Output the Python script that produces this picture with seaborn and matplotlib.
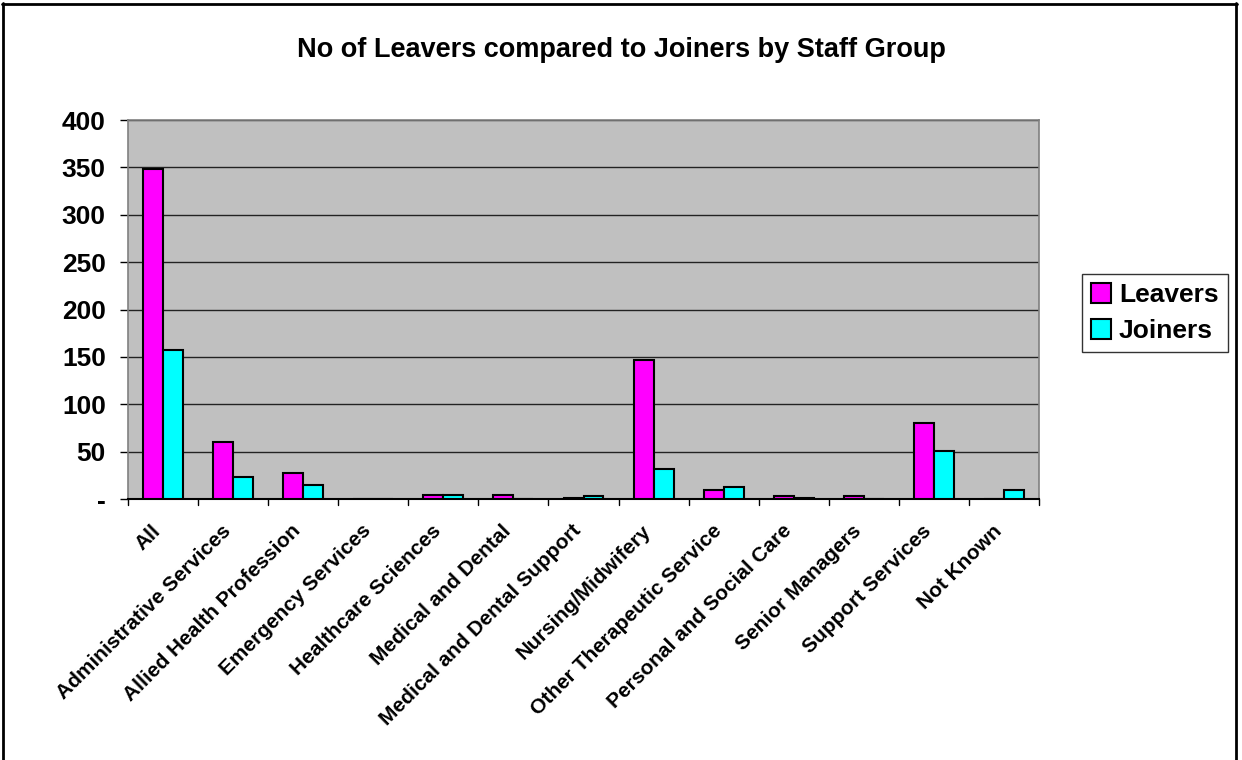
import matplotlib
matplotlib.use("Agg")
import matplotlib.pyplot as plt
import matplotlib.transforms as mtransforms
import seaborn as sns
import pandas as pd
from matplotlib.ticker import FixedLocator, FuncFormatter
from matplotlib.lines import Line2D

categories = ["All", "Administrative Services", "Allied Health Profession", "Emergency Services",
              "Healthcare Sciences", "Medical and Dental", "Medical and Dental Support",
              "Nursing/Midwifery", "Other Therapeutic Service", "Personal and Social Care",
              "Senior Managers", "Support Services", "Not Known"]
leavers = [348, 60, 27, 0, 4, 4, 1, 147, 9, 3, 3, 80, 0]
joiners = [157, 23, 15, 0, 4, 0, 3, 32, 13, 1, 0, 51, 10]
y_ticks = [0, 50, 100, 150, 200, 250, 300, 350, 400]

df = pd.DataFrame({
    "Staff Group": categories * 2,
    "Count": leavers + joiners,
    "Series": ["Leavers"] * len(categories) + ["Joiners"] * len(categories),
})

sns.set_theme(style="white")
plt.rcParams["font.family"] = ["Liberation Sans", "DejaVu Sans"]
plt.rcParams["font.weight"] = "bold"
plt.rcParams["text.color"] = "black"
plt.rcParams["xtick.color"] = "black"
plt.rcParams["ytick.color"] = "black"

W, H = 1242, 760
fig = plt.figure(figsize=(W / 100, H / 100), dpi=100)
ax = fig.add_axes([128 / W, 1 - 499 / H, (1039 - 128) / W, (499 - 120) / H])
ax.set_facecolor("#C0C0C0")

sns.barplot(data=df, x="Staff Group", y="Count", hue="Series",
            palette={"Leavers": "#FF00FF", "Joiners": "#00FFFF"}, saturation=1,
            width=0.57, edgecolor="black", linewidth=1.5, ax=ax, zorder=3, legend=True)

ax.set_ylim(0, 400)
ax.set_xlim(-0.5, len(categories) - 0.5)
ax.yaxis.set_major_locator(FixedLocator(y_ticks))
ax.yaxis.set_major_formatter(FuncFormatter(lambda v, p: "-" if v == 0 else f"{int(v)}"))
ax.grid(axis="y", color="#222222", linewidth=1, zorder=0)
ax.set_axisbelow(True)
for name, s in ax.spines.items():
    s.set_visible(True)
    s.set_color("#808080")
    s.set_linewidth(1.2)
ax.spines["bottom"].set_color("black")
ax.spines["bottom"].set_linewidth(1.5)

ax.tick_params(axis="y", labelsize=19, length=6, width=1, direction="out", left=True, color="black", pad=10)
ax.set_xticks(range(len(categories)))
ax.set_xticklabels(categories, rotation=45, ha="right", rotation_mode="anchor", fontsize=15, fontweight="bold")
ax.tick_params(axis="x", length=0, pad=16)
shift = mtransforms.ScaledTranslation(-12 / 100, 0, fig.dpi_scale_trans)
for lab in ax.get_xticklabels():
    lab.set_transform(lab.get_transform() + shift)
for b in [i - 0.5 for i in range(len(categories) + 1)]:
    ax.plot([b, b], [0, -0.016], transform=ax.get_xaxis_transform(), color="black", lw=1, clip_on=False)
for lab in ax.get_yticklabels():
    lab.set_fontweight("bold")
ax.set_xlabel("")
ax.set_ylabel("")

leg = ax.legend(loc="upper left", bbox_to_anchor=(1082 / W, 1 - 274 / H), bbox_transform=fig.transFigure,
                borderaxespad=0, frameon=True, fancybox=False, edgecolor="black",
                prop={"weight": "bold", "size": 19},
                handlelength=0.75, handleheight=0.75, handletextpad=0.3, borderpad=0.35, labelspacing=0.45)
leg.get_frame().set_linewidth(1)
for h in leg.legend_handles:
    h.set_edgecolor("black")
    h.set_linewidth(1.5)

fig.text(0.5, 1 - 50 / H, "No of Leavers compared to Joiners by Staff Group", ha="center", va="center",
         fontsize=19.5, fontweight="bold")
for xs, ys in [([2.5, 2.5], [3, H]), ([2, 1237], [3.5, 3.5]), ([1236, 1236], [3, H])]:
    fig.add_artist(Line2D([x / W for x in xs], [1 - y / H for y in ys], transform=fig.transFigure,
                          color="black", linewidth=2))

fig.savefig("out.png", dpi=100, facecolor="white")
